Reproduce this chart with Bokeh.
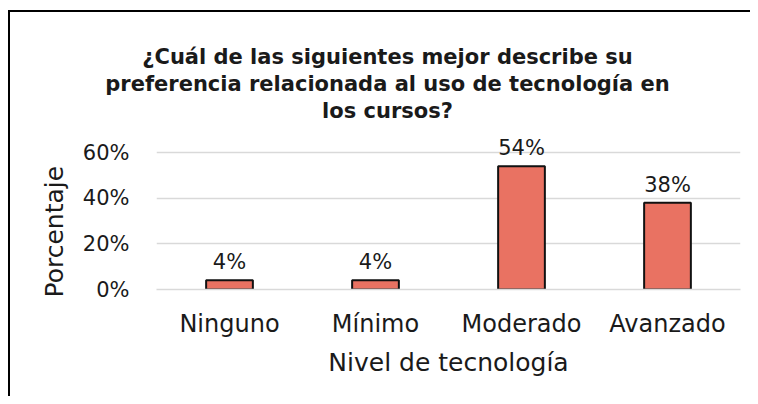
from bokeh.plotting import figure
from bokeh.layouts import column
from bokeh.models import (FactorRange, Range1d, FixedTicker, NumeralTickFormatter,
                          ColumnDataSource, Title, InlineStyleSheet)
from bokeh.embed import file_html
from bokeh.resources import INLINE
from bokeh.core.properties import value

categories = ["Ninguno", "Mínimo", "Moderado", "Avanzado"]
values = [0.04, 0.04, 0.54, 0.38]
value_labels = ["4%", "4%", "54%", "38%"]
y_ticks = [0, 0.2, 0.4, 0.6]
title_lines = [
    "¿Cuál de las siguientes mejor describe su",
    "preferencia relacionada al uso de tecnología en",
    "los cursos?",
]
x_title = "Nivel de tecnología"
y_title = "Porcentaje"

FONT = "DejaVu Sans"
TXT = "#1a1a1a"

# ---- layout constants (pixels) ----
W = 750
TITLE_H = 126
CHART_H = 396 - TITLE_H
TITLE_CX = 387
TITLE_BASE0 = 56
LINE_GAP = 27
FRAME_L, FRAME_R = 156, 740
FRAME_B = 289 - TITLE_H          # 0% line inside chart figure
TOP60 = 152 - TITLE_H            # 60% line inside chart figure
y_max = y_ticks[-1] * FRAME_B / (FRAME_B - TOP60)

# ---- title figure ----
t = figure(width=W, height=TITLE_H, x_range=Range1d(0, W), y_range=Range1d(TITLE_H, 0),
           output_backend="svg", toolbar_location=None,
           x_axis_location=None, y_axis_location=None,
           min_border=0, background_fill_color=None, border_fill_color=None)
t.frame_align = False
t.grid.visible = False
t.outline_line_color = None
tsrc = ColumnDataSource(dict(
    t=title_lines,
    dy=[LINE_GAP * i for i in range(len(title_lines))],
))
t.text(x=TITLE_CX, y=TITLE_BASE0, text="t", source=tsrc, y_offset="dy",
       text_align="center", text_baseline="alphabetic",
       text_font=value(FONT), text_font_size="21px", text_font_style="bold",
       text_color=TXT)

# ---- chart figure ----
src = ColumnDataSource(dict(cat=categories, val=values, lab=value_labels))

p = figure(
    x_range=FactorRange(factors=categories, range_padding=0),
    y_range=Range1d(0, y_max),
    width=W, height=CHART_H,
    output_backend="svg", toolbar_location=None,
    min_border_left=FRAME_L, min_border_right=W - FRAME_R,
    min_border_top=0, min_border_bottom=CHART_H - FRAME_B,
    background_fill_color="white", border_fill_color=None,
)
p.frame_align = False
p.outline_line_color = None

p.vbar(x="cat", top="val", width=0.32, source=src,
       fill_color="#E97262", line_color="#111111", line_width=2)

p.text(x="cat", y="val", text="lab", source=src,
       text_align="center", text_baseline="alphabetic", y_offset=-18,
       text_font=value(FONT), text_font_size="21px", text_color=TXT)

# grid
p.xgrid.grid_line_color = None
p.ygrid.grid_line_color = "#d9d9d9"
p.ygrid.grid_line_width = 1.5
p.ygrid.ticker = FixedTicker(ticks=y_ticks)

# y axis (ticks)
p.yaxis.ticker = FixedTicker(ticks=y_ticks)
p.yaxis.formatter = NumeralTickFormatter(format="0%")
p.yaxis.axis_line_color = None
p.yaxis.major_tick_line_color = None
p.yaxis.minor_tick_line_color = None
p.yaxis.major_tick_out = 0
p.yaxis.major_label_standoff = 27
p.yaxis.major_label_text_font = FONT
p.yaxis.major_label_text_font_size = "21px"
p.yaxis.major_label_text_color = TXT

# y axis title, placed like the reference (starts just below the 0% line)
p.add_layout(Title(text=y_title, align="left", offset=-8, vertical_align="bottom",
                   standoff=22, text_font=FONT, text_font_size="25px",
                   text_font_style="normal", text_color=TXT), "left")

# x axis
p.xaxis.axis_line_color = "#d9d9d9"
p.xaxis.axis_line_width = 1.5
p.xaxis.major_tick_line_color = None
p.xaxis.minor_tick_line_color = None
p.xaxis.major_tick_out = 0
p.xaxis.major_label_standoff = 20
p.xaxis.major_label_text_font = FONT
p.xaxis.major_label_text_font_size = "24px"
p.xaxis.major_label_text_color = TXT
p.xaxis.axis_label = x_title
p.xaxis.axis_label_text_font = FONT
p.xaxis.axis_label_text_font_size = "25px"
p.xaxis.axis_label_text_font_style = "normal"
p.xaxis.axis_label_text_color = TXT
p.xaxis.axis_label_standoff = 7

layout = column(t, p, spacing=0)
# top and left edges of the chart box
layout.stylesheets = [InlineStyleSheet(css=""":host {
  background-color: white;
  background-image: linear-gradient(#000,#000), linear-gradient(#000,#000);
  background-size: 2px 100%, 100% 2px;
  background-position: 8px 10px, 8px 10px;
  background-repeat: no-repeat;
}""")]

open("out.html", "w").write(file_html(layout, INLINE))
